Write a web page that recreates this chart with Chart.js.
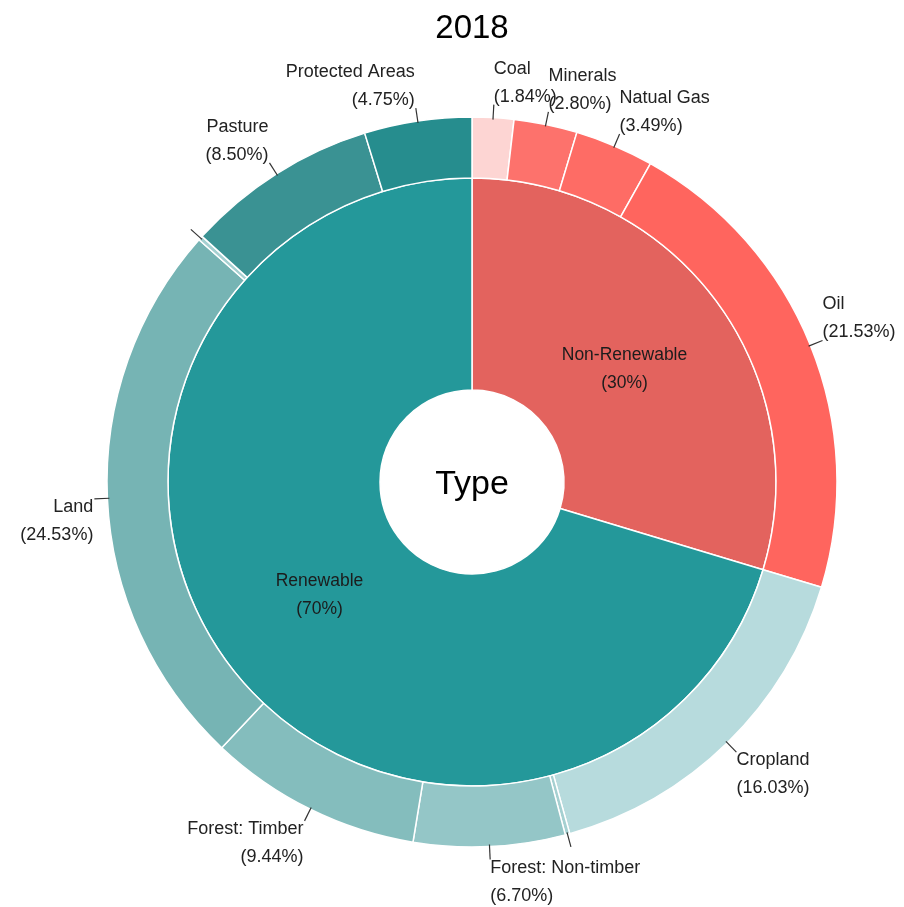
<!DOCTYPE html>
<html>
<head>
<meta charset="utf-8">
<script src="https://cdn.jsdelivr.net/npm/chart.js@4/dist/chart.umd.min.js"></script>
<style>
  html, body { margin: 0; padding: 0; background: #fff; }
  #wrap { width: 904px; height: 907px; position: relative; }
</style>
</head>
<body>
<div id="wrap"><canvas id="sunburst" width="904" height="907"></canvas></div>
<script>
// 2018 resource types - inner ring is the type, outer ring the sub-category
const chartTitle = '2018';
const centerText = 'Type';

const innerNames = ['Non-Renewable', 'Renewable'];
const innerValues = [29.66, 70.35];
const innerPctLabels = ['30%', '70%'];
const innerColors = ['#E3635E', '#24989A'];

// two tiny unlabeled slices sit between Cropland/Forest and Land/Pasture
const outerNames = ['Coal', 'Minerals', 'Natual Gas', 'Oil', 'Cropland', '', 'Forest: Non-timber',
  'Forest: Timber', 'Land', '', 'Pasture', 'Protected Areas'];
const outerValues = [1.84, 2.80, 3.49, 21.53, 16.03, 0.2, 6.70, 9.44, 24.53, 0.2, 8.50, 4.75];
const outerColors = ['#FDD5D3', '#FD726C', '#FE6C65', '#FF655E', '#B7DBDD', '#A5D0D1', '#94C6C7',
  '#84BDBD', '#76B4B4', '#A5D0D1', '#3A9293', '#268D8E'];

const FONT = "'Liberation Sans', Arial, sans-serif";

/**
 * Draws title, center text, inner labels and outer labels with leader lines
 */
const sunburstLabels = {
  id: 'sunburstLabels',
  afterDraw(chart) {
    const ctx = chart.ctx;
    const outerMeta = chart.getDatasetMeta(0);
    const innerMeta = chart.getDatasetMeta(1);
    const first = outerMeta.data[0];
    const cx = first.x;
    const cy = first.y;

    ctx.save();
    ctx.fillStyle = '#000';
    ctx.textAlign = 'center';
    ctx.textBaseline = 'middle';

    ctx.font = '33px ' + FONT;
    ctx.fillText(chartTitle, cx, 29);

    ctx.font = '34px ' + FONT;
    ctx.fillText(centerText, cx, cy + 3);

    // inner ring labels
    ctx.font = '17.5px ' + FONT;
    ctx.fillStyle = '#1c1c1c';
    innerMeta.data.forEach((arc, i) => {
      const mid = (arc.startAngle + arc.endAngle) / 2;
      const r = (arc.innerRadius + arc.outerRadius) / 2 - 8;
      const x = cx + Math.cos(mid) * r;
      const y = cy + Math.sin(mid) * r;
      ctx.fillText(innerNames[i], x, y - 14);
      ctx.fillText('(' + innerPctLabels[i] + ')', x, y + 14);
    });

    // outer ring labels with short leader lines
    ctx.font = '18px ' + FONT;
    ctx.fillStyle = '#222';
    outerMeta.data.forEach((arc, i) => {
      const mid = (arc.startAngle + arc.endAngle) / 2;
      const dx = Math.cos(mid);
      const dy = Math.sin(mid);
      const R = arc.outerRadius;
      const sx = cx + dx * (R - 2);
      const sy = cy + dy * (R - 2);
      const ex = cx + dx * (R + 13);
      const ey = cy + dy * (R + 13);

      ctx.strokeStyle = '#333';
      ctx.lineWidth = 1.2;
      ctx.beginPath();
      ctx.moveTo(sx, sy);
      ctx.lineTo(ex, ey);
      ctx.stroke();

      if (!outerNames[i]) return;

      ctx.textAlign = dx >= 0 ? 'left' : 'right';
      const tx = dx >= 0 ? ex : ex - 1;
      const pct = '(' + outerValues[i].toFixed(2) + '%)';
      let y1;
      if (dy < 0) {
        y1 = ey - 8 - 28;
      } else {
        y1 = ey + 8;
      }
      ctx.fillText(outerNames[i], tx, y1);
      ctx.fillText(pct, tx, y1 + 28);
    });

    ctx.restore();
  },
};

document.addEventListener('DOMContentLoaded', () => {
  const ctx = document.getElementById('sunburst');

  new Chart(ctx, {
    type: 'doughnut',
    data: {
      labels: outerNames,
      datasets: [
        {
          label: 'Sub-type',
          data: outerValues,
          backgroundColor: outerColors,
          borderColor: '#FFFFFF',
          borderWidth: 1.5,
          weight: 61,
        },
        {
          label: 'Type',
          data: innerValues,
          backgroundColor: innerColors,
          borderColor: '#FFFFFF',
          borderWidth: 1.5,
          weight: 212,
        },
      ],
    },
    options: {
      responsive: false,
      animation: false,
      radius: 365,
      cutout: '25.2%',
      layout: {
        padding: { left: 40, right: 0, top: 57, bottom: 0 },
      },
      plugins: {
        legend: { display: false },
        tooltip: { enabled: false },
      },
      hoverOffset: 0,
    },
    plugins: [sunburstLabels],
  });
});
</script>
</body>
</html>
